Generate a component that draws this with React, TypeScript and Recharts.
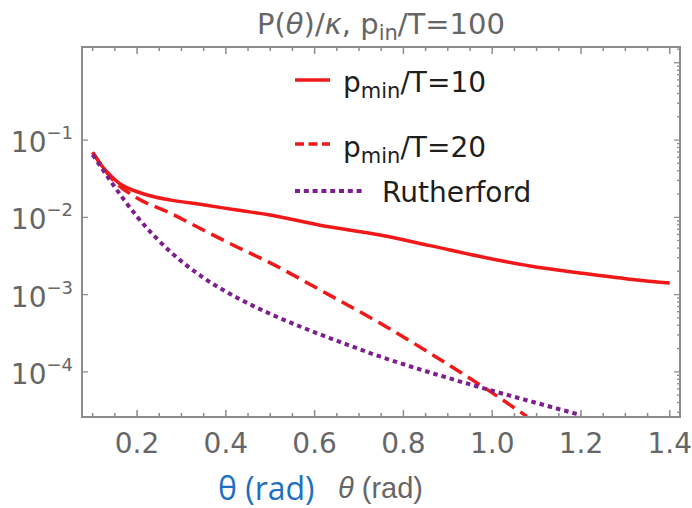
import React from "react";
import { LineChart, Line, XAxis, YAxis, Legend } from "recharts";

// values (theta in rad, P/kappa on a log axis)
const solidTheta = [0.1, 0.12, 0.14, 0.16, 0.2, 0.236, 0.274, 0.349, 0.425, 0.5, 0.612, 0.747, 0.86, 0.973, 1.085, 1.198, 1.31, 1.4];
const solidVal = [0.0692, 0.0468, 0.0347, 0.0275, 0.0214, 0.0186, 0.0168, 0.0145, 0.0124, 0.0107, 0.0079, 0.0059, 0.0043, 0.0031, 0.00234, 0.0019, 0.00158, 0.00141];

const dashedTheta = [0.1, 0.146, 0.2, 0.274, 0.349, 0.425, 0.5, 0.612, 0.747, 0.86, 0.973, 1.078];
const dashedVal = [0.0692, 0.0304, 0.0178, 0.01138, 0.00685, 0.00413, 0.00257, 0.00115, 0.000427, 0.000174, 0.0000676, 0.0000265];

const rutherfordTheta = [0.1, 0.139, 0.2, 0.274, 0.349, 0.425, 0.5, 0.574, 0.66, 0.747, 0.86, 0.973, 1.085, 1.2];
const rutherfordVal = [0.0646, 0.0302, 0.0102, 0.00363, 0.00166, 0.000912, 0.000562, 0.000372, 0.00024, 0.000158, 0.000098, 0.000063, 0.0000417, 0.0000275];

const xTicks = [0.1, 0.15, 0.2, 0.25, 0.3, 0.35, 0.4, 0.45, 0.5, 0.55, 0.6, 0.65, 0.7, 0.75, 0.8, 0.85, 0.9, 0.95, 1.0, 1.05, 1.1, 1.15, 1.2, 1.25, 1.3, 1.35, 1.4];
const xLabels = [0.2, 0.4, 0.6, 0.8, 1.0, 1.2, 1.4];
// log ticks for the frame; only the decades get a label (and a tick on the left side)
const yTicks = [
  3e-5, 4e-5, 5e-5, 6e-5, 7e-5, 8e-5, 9e-5,
  1e-4, 2e-4, 3e-4, 4e-4, 5e-4, 6e-4, 7e-4, 8e-4, 9e-4,
  1e-3, 2e-3, 3e-3, 4e-3, 5e-3, 6e-3, 7e-3, 8e-3, 9e-3,
  1e-2, 2e-2, 3e-2, 4e-2, 5e-2, 6e-2, 7e-2, 8e-2, 9e-2,
  1e-1, 2e-1, 3e-1, 4e-1, 5e-1, 6e-1, 7e-1, 8e-1, 9e-1,
  1, 1.5,
];
const yLabels = [1e-4, 1e-3, 1e-2, 1e-1];
const yExponents = ["−4", "−3", "−2", "−1"];

const toRows = (t: number[], v: number[]) => t.map((theta, i) => ({ theta, v: v[i] }));
const solidData = toRows(solidTheta, solidVal);
const dashedData = toRows(dashedTheta, dashedVal);
const rutherfordData = toRows(rutherfordTheta, rutherfordVal);

const W = 692;
const H = 508;
const MARGIN = { top: 47, right: 12, bottom: 0, left: 0 };
const PLOT_TOP = MARGIN.top;
const PLOT_RIGHT = W - MARGIN.right;
const PLOT_LEFT = 82;
const PLOT_BOTTOM = H - 91;

const FRAME = "#8c8c8c";
const LABEL = "#666666";
const RED = "#f01818";
const PURPLE = "#7e1f8e";
const FONT = "'DejaVu Sans', sans-serif";
const xDomain = [0.076, 1.423];
const yDomain = [2.6e-5, 1.6];

const near = (list: number[], v: number) => list.findIndex((l) => Math.abs(l - v) / l < 1e-6);
const isDecade = (v: number) => Math.abs(Math.log10(v) - Math.round(Math.log10(v))) < 1e-6;

// bottom tick + matching tick on the top side of the frame, both pointing inward
const BottomTick = (props: any) => {
  const { x, y, payload } = props;
  const major = near(xLabels, payload.value) >= 0;
  const len = major ? 7 : 4;
  return (
    <g>
      <path d={`M${x},${y}V${y - len}M${x},${PLOT_TOP}V${PLOT_TOP + len}`} stroke={FRAME} strokeWidth={1.5} fill="none" />
      {major && (
        <text x={x} y={y + 36} textAnchor="middle" fill={LABEL} fontSize={28} fontFamily={FONT}>
          {payload.value.toFixed(1)}
        </text>
      )}
    </g>
  );
};

// decade ticks + labels on the left, full log ticks on the right side
const LeftTick = (props: any) => {
  const { x, y, payload } = props;
  const idx = near(yLabels, payload.value);
  const major = isDecade(payload.value);
  const left = idx >= 0 ? `M${x},${y}H${x + 6}` : "";
  return (
    <g>
      <path d={`${left}M${PLOT_RIGHT},${y}H${PLOT_RIGHT - (major ? 6 : 3)}`} stroke={FRAME} strokeWidth={1.3} fill="none" />
      {idx >= 0 && (
        <text x={x - 9} y={y + 12} textAnchor="end" fill={LABEL} fontSize={28} fontFamily={FONT}>
          <tspan>10</tspan>
          <tspan dy={-13} fontSize={18}>{yExponents[idx]}</tspan>
        </text>
      )}
    </g>
  );
};

const LegendBox = () => (
  <svg width={300} height={160}>
    <g fontFamily={FONT} fontSize={28} fill="#1e1e1e">
      <line x1={10} x2={45} y1={20} y2={20} stroke={RED} strokeWidth={3.5} />
      <text x={58} y={32}>
        p<tspan dy={6} fontSize={21}>min</tspan>
        <tspan dy={-6}>/T=10</tspan>
      </text>
      <line x1={10} x2={45} y1={84} y2={84} stroke={RED} strokeWidth={3.5} strokeDasharray="9 4.5" />
      <text x={58} y={97}>
        p<tspan dy={6} fontSize={21}>min</tspan>
        <tspan dy={-6}>/T=20</tspan>
      </text>
      <line x1={10} x2={80} y1={131} y2={131} stroke={PURPLE} strokeWidth={4} strokeDasharray="5 3.8" />
      <text x={97} y={142}>Rutherford</text>
    </g>
  </svg>
);

export default function App() {
  return (
    <div style={{ position: "absolute", left: 0, top: 0, background: "#fff" }}>
      <LineChart width={W} height={H} margin={MARGIN}>
        {/* plot frame */}
        <rect
          x={PLOT_LEFT}
          y={PLOT_TOP}
          width={PLOT_RIGHT - PLOT_LEFT}
          height={PLOT_BOTTOM - PLOT_TOP}
          fill="none"
          stroke={FRAME}
          strokeWidth={2}
        />
        <XAxis
          dataKey="theta"
          type="number"
          domain={xDomain}
          allowDataOverflow
          ticks={xTicks}
          interval={0}
          height={91}
          tickSize={0}
          tickMargin={0}
          tickLine={false}
          tick={BottomTick}
          axisLine={{ stroke: FRAME, strokeWidth: 2 }}
        />
        <YAxis
          type="number"
          scale="log"
          domain={yDomain}
          allowDataOverflow
          ticks={yTicks}
          interval={0}
          width={82}
          tickSize={0}
          tickMargin={0}
          tickLine={false}
          tick={LeftTick}
          axisLine={{ stroke: FRAME, strokeWidth: 2 }}
        />
        <Legend
          verticalAlign="middle"
          align="center"
          layout="horizontal"
          content={LegendBox}
          wrapperStyle={{ position: "absolute", left: 285, top: 60, width: 300, height: 160 }}
        />
        <Line
          data={solidData}
          dataKey="v"
          type="monotone"
          stroke={RED}
          strokeWidth={3.5}
          dot={false}
          activeDot={false}
          isAnimationActive={false}
        />
        <Line
          data={dashedData}
          dataKey="v"
          type="monotone"
          stroke={RED}
          strokeWidth={3.5}
          strokeDasharray="14 7"
          dot={false}
          activeDot={false}
          isAnimationActive={false}
        />
        <Line
          data={rutherfordData}
          dataKey="v"
          type="monotone"
          stroke={PURPLE}
          strokeWidth={4}
          strokeDasharray="4.5 4"
          dot={false}
          activeDot={false}
          isAnimationActive={false}
        />
        <text x={381} y={34} textAnchor="middle" fill={LABEL} fontSize={29} fontFamily={FONT}>
          P(<tspan fontStyle="italic">θ</tspan>)/<tspan fontStyle="italic">κ</tspan>, p
          <tspan dy={6} fontSize={21}>in</tspan>
          <tspan dy={-6}>/T=100</tspan>
        </text>
        <text x={218} y={500} fill="#1f6fc0" fontSize={32} fontFamily="'Open Sans', sans-serif">
          θ (rad)
        </text>
        <text x={338} y={498} fill={LABEL} fontSize={29} fontFamily="'Liberation Sans', sans-serif">
          <tspan fontStyle="italic">θ</tspan> (rad)
        </text>
      </LineChart>
    </div>
  );
}
